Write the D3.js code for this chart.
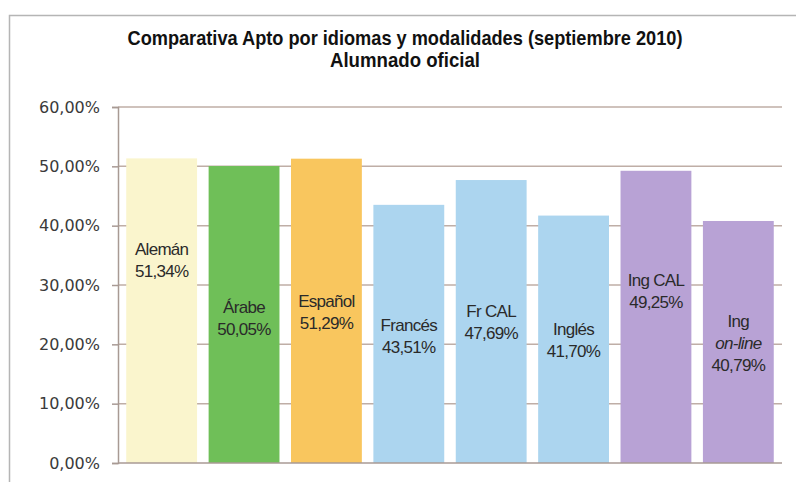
<!DOCTYPE html>
<html lang="es">
<head>
<meta charset="UTF-8">
<title>Comparativa Apto por idiomas y modalidades</title>
<script src="https://d3js.org/d3.v7.min.js"></script>
<style>
body { margin: 0; background: #fff; }
.tick text { font-family: "DejaVu Sans", Verdana, sans-serif; font-size: 16px; fill: #3a3a3a; }
.barlabel { font-family: "Liberation Sans", Arial, sans-serif; font-size: 17px; fill: #2a2a2a; letter-spacing: -0.7px; }
.title { font-family: "Liberation Sans", Arial, sans-serif; font-weight: bold; font-size: 21px; fill: #111; }
</style>
</head>
<body>
<div id="chart"></div>
<script>
// datos
var categorias = ["Alemán", "Árabe", "Español", "Francés", "Fr CAL", "Inglés", "Ing CAL", "Ing on-line"];
var valores = [51.34, 50.05, 51.29, 43.51, 47.69, 41.70, 49.25, 40.79];
var ticksY = [0, 10, 20, 30, 40, 50, 60];

// lineas de cada etiqueta (la segunda de Ing on-line va en cursiva)
var etiquetas = [["Alemán"], ["Árabe"], ["Español"], ["Francés"], ["Fr CAL"], ["Inglés"], ["Ing CAL"], ["Ing", "on-line"]];
// altura (en %) donde se centra cada etiqueta
var posEtiqueta = [34.2, 24.5, 25.5, 21.4, 23.8, 20.7, 29.0, 20.2];

var colores = ["#faf5cd", "#6fbf58", "#f9c65e", "#acd5ef", "#acd5ef", "#acd5ef", "#b8a2d5", "#b8a2d5"];

var width = 796, height = 482;
var margin = {left: 118, right: 14, top: 107, bottom: 19};

var svg = d3.select("#chart").append("svg")
    .attr("width", width)
    .attr("height", height);

// marco exterior
svg.append("rect")
    .attr("x", 9.5).attr("y", 15.5)
    .attr("width", width).attr("height", height)
    .attr("fill", "none").attr("stroke", "#b5b5b5").attr("stroke-width", 1.5);

var x = d3.scaleBand()
    .domain(categorias)
    .range([margin.left, width - margin.right])
    .paddingInner(0.14)
    .paddingOuter(0.1);

var y = d3.scaleLinear()
    .domain([0, 60])
    .range([height - margin.bottom, margin.top]);

// rejilla
svg.append("g")
    .selectAll("line")
    .data(ticksY.slice(1))
    .enter()
    .append("line")
    .attr("x1", margin.left).attr("x2", width - margin.right)
    .attr("y1", function(d) { return y(d); })
    .attr("y2", function(d) { return y(d); })
    .attr("stroke", "#bfaea6").attr("stroke-width", 1.5);

// barras
svg.append("g")
    .selectAll("rect")
    .data(valores)
    .enter()
    .append("rect")
    .attr("x", function(d, i) { return x(categorias[i]); })
    .attr("y", function(d) { return y(d); })
    .attr("width", x.bandwidth())
    .attr("height", function(d) { return y(0) - y(d); })
    .attr("fill", function(d, i) { return colores[i]; });

// eje y
var yAxis = d3.axisLeft(y)
    .tickValues(ticksY)
    .tickSize(6)
    .tickPadding(12)
    .tickFormat(function(d) { return d3.format(".2f")(d).replace(".", ",") + "%"; });

var gy = svg.append("g")
    .attr("transform", "translate(" + margin.left + ",0)")
    .call(yAxis);
gy.select(".domain").attr("stroke", "#a89a94").attr("stroke-width", 1.5);
gy.selectAll(".tick line").attr("stroke", "#a89a94").attr("stroke-width", 1.5);

// linea base
svg.append("line")
    .attr("x1", margin.left).attr("x2", width - margin.right)
    .attr("y1", y(0)).attr("y2", y(0))
    .attr("stroke", "#a89a94").attr("stroke-width", 1.5);

// etiquetas de las barras
var lineH = 22;
var grupos = svg.append("g")
    .selectAll("text")
    .data(valores)
    .enter()
    .append("text")
    .attr("class", "barlabel")
    .attr("text-anchor", "middle");

grupos.each(function(d, i) {
    var t = d3.select(this);
    var lineas = etiquetas[i].concat([d3.format(".2f")(d).replace(".", ",") + "%"]);
    var cx = x(categorias[i]) + x.bandwidth() / 2;
    var y0 = y(posEtiqueta[i]) - (lineas.length - 1) * lineH / 2 + 6;
    lineas.forEach(function(s, k) {
        t.append("tspan")
            .attr("x", cx)
            .attr("y", y0 + k * lineH)
            .style("font-style", (i === 7 && k === 1) ? "italic" : "normal")
            .text(s);
    });
});

// titulo
svg.append("text")
    .attr("class", "title")
    .attr("x", 405).attr("y", 45)
    .attr("text-anchor", "middle")
    .attr("textLength", 555)
    .attr("lengthAdjust", "spacingAndGlyphs")
    .text("Comparativa Apto por idiomas y modalidades (septiembre 2010)");
svg.append("text")
    .attr("class", "title")
    .attr("x", 405).attr("y", 67)
    .attr("text-anchor", "middle")
    .attr("textLength", 150)
    .attr("lengthAdjust", "spacingAndGlyphs")
    .text("Alumnado oficial");
</script>
</body>
</html>
